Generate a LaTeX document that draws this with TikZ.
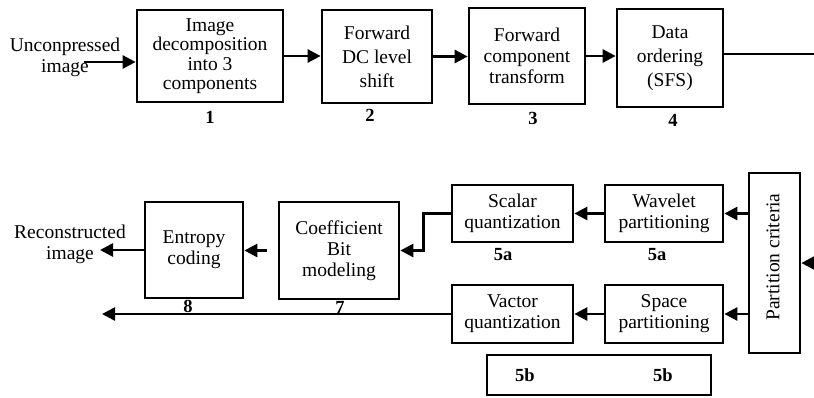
\documentclass[tikz,border=0pt]{standalone}
\usepackage{fontspec}
\setmainfont{Liberation Serif}
\usetikzlibrary{arrows.meta}

\tikzset{
  lbl/.style={font=\fontsize{19.5pt}{21pt}\selectfont, align=center, inner sep=0pt},
  box/.style={lbl, draw, line width=2.7pt},
  num/.style={font=\fontsize{18.5pt}{20pt}\selectfont\bfseries, inner sep=0pt},
  arr/.style={line width=2.6pt, -{Triangle[length=13pt,width=13pt]}},
  plain/.style={line width=2.6pt}
}

\begin{document}
\begin{tikzpicture}[x=1pt,y=-1pt]
\useasboundingbox (0,0) rectangle (814,397);

% compression chain, top row
\node[box, minimum width=146pt, minimum height=92pt,
      font=\fontsize{19.5pt}{19.5pt}\selectfont] (b1) at (210,56)
  {Image\\decomposition\\into 3\\components};
\node[box, minimum width=110pt, minimum height=93pt,
      font=\fontsize{19.5pt}{24pt}\selectfont] (b2) at (377,56.5)
  {Forward\\DC level\\shift};
\node[box, minimum width=116pt, minimum height=96pt] (b3) at (527,56)
  {Forward\\component\\transform};
\node[box, minimum width=106pt, minimum height=98pt,
      font=\fontsize{19.5pt}{24pt}\selectfont] (b4) at (670,58)
  {Data\\ordering\\(SFS)};

\node[num] (n1) at (210,117) {1};
\node[num] (n2) at (370,115) {2};
\node[num] (n3) at (533,118) {3};
\node[num] (n4) at (673,120) {4};

\node[lbl] (src) at (65,57) {Unconpressed\\image};
\coordinate (in) at (84,62);
\coordinate (out) at (814,54);

\draw[arr] (in) -- (in -| b1.west);
\draw[arr] (b1.east) -- (b1.east -| b2.west);
\draw[arr] (b2.east) -- (b2.east -| b3.west);
\draw[arr] (b3.east) -- (b3.east -| b4.west);
\draw[plain] (out -| b4.east) -- (out);

% partitioning and quantization
\node[box, minimum width=51pt, minimum height=180pt] (bpc) at (774.5,263) {};
\node[lbl, rotate=90] (pct) at (773,257) {Partition criteria};

\node[box, minimum width=118pt, minimum height=57pt] (bwp) at (664,213.5)
  {Wavelet\\partitioning};
\node[box, minimum width=121pt, minimum height=57pt] (bsq) at (512.5,213.5)
  {Scalar\\quantization};
\node[box, minimum width=118pt, minimum height=58pt] (bsp) at (664,314)
  {Space\\partitioning};
\node[box, minimum width=121pt, minimum height=58pt] (bvq) at (512.5,314)
  {Vactor\\quantization};

\node[num] (n5a) at (503,255) {5a};
\node[num] (n5a2) at (657,255) {5a};

\node[box, minimum width=224pt, minimum height=40pt] (b5b) at (599,375) {};
\node[num] (n5b) at (525,375) {5b};
\node[num] (n5b2) at (663,375) {5b};

% coding stages, bottom row
\node[box, minimum width=120pt, minimum height=97pt] (b7) at (339,250.5)
  {Coefficient\\Bit\\modeling};
\node[box, minimum width=98pt, minimum height=96pt] (b8) at (194,250)
  {Entropy\\coding};
\node[num] (n7) at (340,307) {7};
\node[num] (n8) at (188,306) {8};

\node[lbl] (dst) at (70,244) {Reconstructed\\image};

\coordinate (fb) at (814,263);
\coordinate (rec) at (100,250);
\coordinate (low) at (102,316);

\draw[arr] (fb) -- (bpc.east);
\draw[arr] (bpc.west |- bwp) -- (bwp.east);
\draw[arr] (bpc.west |- bsp) -- (bsp.east);
\draw[arr] (bwp.west) -- (bsq.east);
\draw[arr] (bsp.west) -- (bvq.east);
\draw[arr] (bsq.west) -- ++(-27,0) |- (b7.east);
\draw[arr, shorten <=11pt] (b7.west) -- (b7.west -| b8.east);
\draw[arr] (b8.west) -- (b8.west -| rec);
\draw[arr] (bvq.west) -- (bvq.west -| low);
\end{tikzpicture}
\end{document}
